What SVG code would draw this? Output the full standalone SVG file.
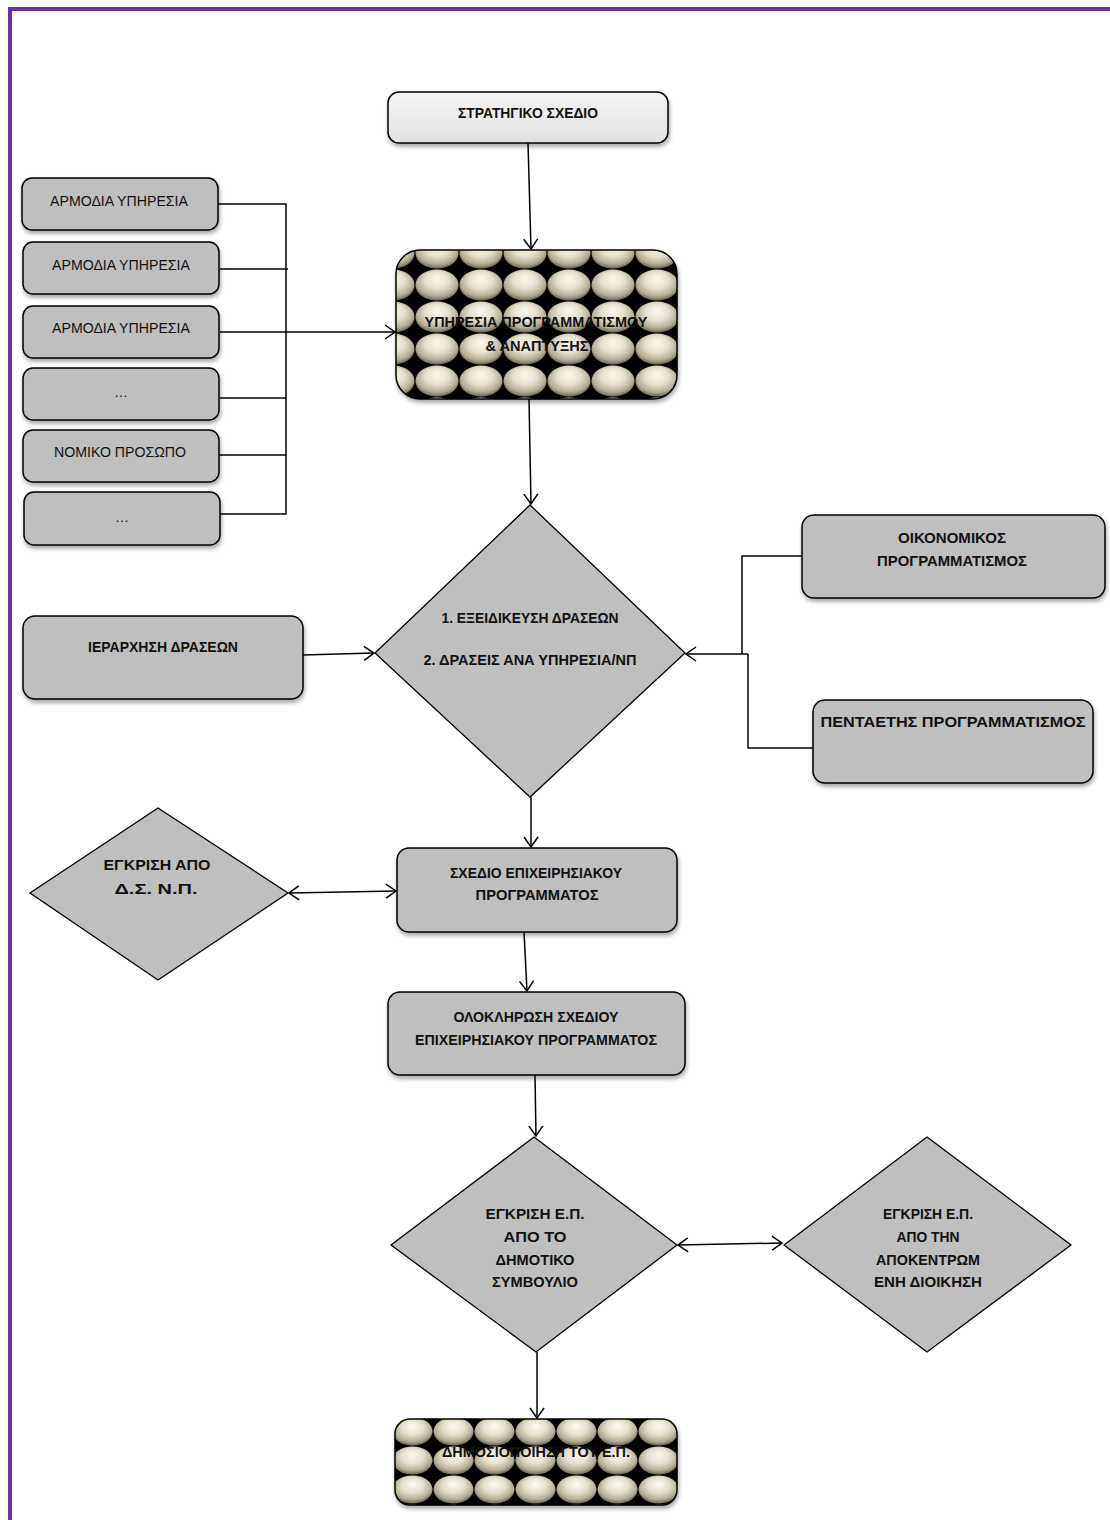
<svg xmlns="http://www.w3.org/2000/svg" width="1110" height="1520" viewBox="0 0 1110 1520">
<style>
.box{fill:#bfbfbf;stroke:#000;stroke-width:1.5;filter:url(#sh)}
.dia{fill:#bfbfbf;stroke:#000;stroke-width:1.3}
.conn{fill:none;stroke:#000;stroke-width:1.5}
.b{font-family:"Liberation Sans",Arial,sans-serif;font-weight:bold;font-size:14px;fill:#111;text-anchor:middle}
.r{font-family:"Liberation Sans",Arial,sans-serif;font-size:14px;fill:#111;text-anchor:middle}
</style>
<defs>
<filter id="sh" x="-10%" y="-10%" width="125%" height="135%">
<feDropShadow dx="1" dy="3" stdDeviation="2" flood-color="#000" flood-opacity="0.35"/>
</filter>
<linearGradient id="lg" x1="0" y1="0" x2="0" y2="1">
<stop offset="0" stop-color="#f4f4f4"/>
<stop offset="1" stop-color="#e2e2e2"/>
</linearGradient>
<radialGradient id="sph" cx="0.5" cy="0.4" r="0.6" fx="0.5" fy="0.3">
<stop offset="0" stop-color="#fbf9f0"/>
<stop offset="0.45" stop-color="#e6e1cd"/>
<stop offset="0.8" stop-color="#b3ad96"/>
<stop offset="1" stop-color="#6b6753"/>
</radialGradient>
<pattern id="p1" patternUnits="userSpaceOnUse" x="415" y="237" width="44" height="32">
<rect width="44" height="32" fill="#000"/>
<ellipse cx="22" cy="16" rx="21.5" ry="15.5" fill="url(#sph)"/>
</pattern>
<pattern id="p2" patternUnits="userSpaceOnUse" x="392" y="1417" width="41" height="29">
<rect width="41" height="29" fill="#000"/>
<ellipse cx="20.5" cy="14.5" rx="20" ry="14" fill="url(#sph)"/>
</pattern>
<marker id="ar" viewBox="0 0 12 16" refX="11" refY="8" markerWidth="12" markerHeight="16" markerUnits="userSpaceOnUse" orient="auto-start-reverse">
<path d="M1,1 L11,8 L1,15" fill="none" stroke="#000" stroke-width="1.5"/>
</marker>
</defs>

<rect width="1110" height="1520" fill="#fff"/>
<g id="border" fill="none" stroke="#7030a0" stroke-width="4">
<path d="M10,1520 V9 H1110"/>
</g>

<g id="connectors" class="conn">
<path d="M528,143 L531,249" marker-end="url(#ar)"/>
<path d="M218,204 H286 V514 H220"/>
<path d="M220,269 H288"/>
<path d="M220,332 H395" marker-end="url(#ar)"/>
<path d="M220,398 H286"/>
<path d="M217,455 H286"/>
<path d="M529,399 L531,504" marker-end="url(#ar)"/>
<path d="M303,655 L374,653" marker-end="url(#ar)"/>
<path d="M802,556 H742 V654"/>
<path d="M748,654 V748 H813"/>
<path d="M748,654 L686,654" marker-end="url(#ar)"/>
<path d="M531,797 L531,847" marker-end="url(#ar)"/>
<path d="M289,893 L396,891" marker-start="url(#ar)" marker-end="url(#ar)"/>
<path d="M524,932 L527,991" marker-end="url(#ar)"/>
<path d="M535,1075 L536,1136" marker-end="url(#ar)"/>
<path d="M678,1245 L782,1243" marker-start="url(#ar)" marker-end="url(#ar)"/>
<path d="M537,1352 L537,1418" marker-end="url(#ar)"/>
</g>

<g id="n-strategic">
<rect x="388" y="92" width="280" height="51" rx="11" fill="url(#lg)" stroke="#000" stroke-width="1.5" filter="url(#sh)"/>
<text class="b" x="528" y="118" textLength="140" lengthAdjust="spacingAndGlyphs">ΣΤΡΑΤΗΓΙΚΟ ΣΧΕΔΙΟ</text>
</g>

<g id="n-service">
<rect x="396" y="250" width="281" height="149" rx="24" fill="url(#p1)" stroke="#000" stroke-width="1.5" filter="url(#sh)"/>
<text class="b" x="536" y="327" textLength="223" lengthAdjust="spacingAndGlyphs">ΥΠΗΡΕΣΙΑ ΠΡΟΓΡΑΜΜΑΤΙΣΜΟΥ</text>
<text class="b" x="537" y="351" textLength="103" lengthAdjust="spacingAndGlyphs">&amp; ΑΝΑΠΤΥΞΗΣ</text>
</g>

<g id="n-arm1">
<rect class="box" x="22" y="178" width="196" height="52" rx="10"/>
<text class="r" x="119" y="206" textLength="138" lengthAdjust="spacingAndGlyphs">ΑΡΜΟΔΙΑ ΥΠΗΡΕΣΙΑ</text>
</g>
<g id="n-arm2">
<rect class="box" x="23" y="242" width="196" height="52" rx="10"/>
<text class="r" x="121" y="270" textLength="138" lengthAdjust="spacingAndGlyphs">ΑΡΜΟΔΙΑ ΥΠΗΡΕΣΙΑ</text>
</g>
<g id="n-arm3">
<rect class="box" x="23" y="306" width="196" height="52" rx="10"/>
<text class="r" x="121" y="333" textLength="138" lengthAdjust="spacingAndGlyphs">ΑΡΜΟΔΙΑ ΥΠΗΡΕΣΙΑ</text>
</g>
<g id="n-dots1">
<rect class="box" x="23" y="368" width="196" height="52" rx="10"/>
<text class="r" x="121" y="397">…</text>
</g>
<g id="n-legal">
<rect class="box" x="23" y="430" width="196" height="52" rx="10"/>
<text class="r" x="120" y="457" textLength="132" lengthAdjust="spacingAndGlyphs">ΝΟΜΙΚΟ ΠΡΟΣΩΠΟ</text>
</g>
<g id="n-dots2">
<rect class="box" x="24" y="492" width="196" height="53" rx="10"/>
<text class="r" x="122" y="522">…</text>
</g>

<g id="n-specify">
<polygon class="dia" points="530,505 685,653 530,797 375,653"/>
<text class="b" x="530" y="623" textLength="177" lengthAdjust="spacingAndGlyphs">1. ΕΞΕΙΔΙΚΕΥΣΗ ΔΡΑΣΕΩΝ</text>
<text class="b" x="530" y="665" textLength="213" lengthAdjust="spacingAndGlyphs">2. ΔΡΑΣΕΙΣ ΑΝΑ ΥΠΗΡΕΣΙΑ/ΝΠ</text>
</g>

<g id="n-hierarchy">
<rect class="box" x="23" y="616" width="280" height="83" rx="12"/>
<text class="b" x="163" y="652" textLength="150" lengthAdjust="spacingAndGlyphs">ΙΕΡΑΡΧΗΣΗ ΔΡΑΣΕΩΝ</text>
</g>

<g id="n-economic">
<rect class="box" x="802" y="515" width="303" height="83" rx="12"/>
<text class="b" x="952" y="543" textLength="108" lengthAdjust="spacingAndGlyphs">ΟΙΚΟΝΟΜΙΚΟΣ</text>
<text class="b" x="952" y="566" textLength="150" lengthAdjust="spacingAndGlyphs">ΠΡΟΓΡΑΜΜΑΤΙΣΜΟΣ</text>
</g>

<g id="n-five">
<rect class="box" x="813" y="700" width="280" height="83" rx="12"/>
<text class="b" x="953" y="727" textLength="265" lengthAdjust="spacingAndGlyphs">ΠΕΝΤΑΕΤΗΣ ΠΡΟΓΡΑΜΜΑΤΙΣΜΟΣ</text>
</g>

<g id="n-approve-np">
<polygon class="dia" points="158,808 288,893 158,980 30,893"/>
<text class="b" x="157" y="870" textLength="107" lengthAdjust="spacingAndGlyphs">ΕΓΚΡΙΣΗ ΑΠΟ</text>
<text class="b" x="156" y="894" textLength="83" lengthAdjust="spacingAndGlyphs">Δ.Σ. Ν.Π.</text>
</g>

<g id="n-draft">
<rect class="box" x="397" y="848" width="280" height="84" rx="12"/>
<text class="b" x="536" y="878" textLength="172" lengthAdjust="spacingAndGlyphs">ΣΧΕΔΙΟ ΕΠΙΧΕΙΡΗΣΙΑΚΟΥ</text>
<text class="b" x="537" y="900" textLength="123" lengthAdjust="spacingAndGlyphs">ΠΡΟΓΡΑΜΜΑΤΟΣ</text>
</g>

<g id="n-complete">
<rect class="box" x="388" y="992" width="297" height="83" rx="12"/>
<text class="b" x="536" y="1022" textLength="165" lengthAdjust="spacingAndGlyphs">ΟΛΟΚΛΗΡΩΣΗ ΣΧΕΔΙΟΥ</text>
<text class="b" x="536" y="1045" textLength="242" lengthAdjust="spacingAndGlyphs">ΕΠΙΧΕΙΡΗΣΙΑΚΟΥ ΠΡΟΓΡΑΜΜΑΤΟΣ</text>
</g>

<g id="n-approve-council">
<polygon class="dia" points="534,1137 677,1245 536,1352 391,1245"/>
<text class="b" x="535" y="1219" textLength="99" lengthAdjust="spacingAndGlyphs">ΕΓΚΡΙΣΗ Ε.Π.</text>
<text class="b" x="535" y="1242" textLength="63" lengthAdjust="spacingAndGlyphs">ΑΠΟ ΤΟ</text>
<text class="b" x="535" y="1265" textLength="79" lengthAdjust="spacingAndGlyphs">ΔΗΜΟΤΙΚΟ</text>
<text class="b" x="535" y="1287" textLength="86" lengthAdjust="spacingAndGlyphs">ΣΥΜΒΟΥΛΙΟ</text>
</g>

<g id="n-approve-decentral">
<polygon class="dia" points="927,1137 1071,1245 927,1352 784,1245"/>
<text class="b" x="928" y="1219" textLength="90" lengthAdjust="spacingAndGlyphs">ΕΓΚΡΙΣΗ Ε.Π.</text>
<text class="b" x="928" y="1242" textLength="63" lengthAdjust="spacingAndGlyphs">ΑΠΟ ΤΗΝ</text>
<text class="b" x="928" y="1265" textLength="104" lengthAdjust="spacingAndGlyphs">ΑΠΟΚΕΝΤΡΩΜ</text>
<text class="b" x="928" y="1287" textLength="108" lengthAdjust="spacingAndGlyphs">ΕΝΗ ΔΙΟΙΚΗΣΗ</text>
</g>

<g id="n-publish">
<rect x="395" y="1419" width="282" height="86" rx="15" fill="url(#p2)" stroke="#000" stroke-width="1.5" filter="url(#sh)"/>
<text class="b" x="536" y="1457" textLength="188" lengthAdjust="spacingAndGlyphs">ΔΗΜΟΣΙΟΠΟΙΗΣΗ ΤΟΥ Ε.Π.</text>
</g>
</svg>
